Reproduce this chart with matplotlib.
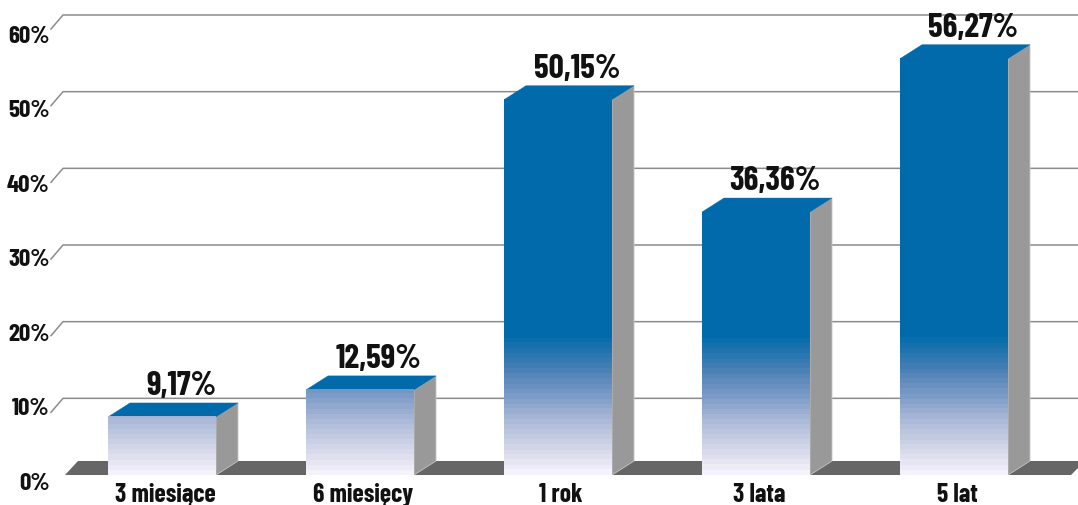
import matplotlib.pyplot as plt
from matplotlib.colors import LinearSegmentedColormap
from matplotlib.transforms import ScaledTranslation
import numpy as np

categories = ["3 miesiące", "6 miesięcy", "1 rok", "3 lata", "5 lat"]
printed_values = ["9,17%", "12,59%", "50,15%", "36,36%", "56,27%"]
# bar heights as measured against the gridlines (the printed values don't line up exactly)
bar_heights = [7.57, 11.1, 48.95, 34.3, 54.3]
y_ticks = [0, 10, 20, 30, 40, 50, 60]

blue = "#006aab"
side_color = "#999999"
floor_color = "#666666"
grid_color = "#8c8c8c"
gradient_colors = [(0.0, "#f4f2fa"), (0.18, "#d2d6e8"), (0.38, "#aab9d8"),
                   (0.55, "#7f9cc8"), (0.75, "#4a80b6"), (1.0, blue)]
gradient_top = 18.5

plt.rcParams["font.family"] = ["Barlow Condensed", "Roboto", "DejaVu Sans"]
plt.rcParams["font.weight"] = "bold"

W, H = 1078, 505
left_px, right_px, top_px, base_px = 63, 1078, 15, 475
first_center_px, step_px = 162, 198

fig = plt.figure(figsize=(W / 100, H / 100), dpi=100)
ax = fig.add_axes([left_px / W, 1 - base_px / H, (right_px - left_px) / W, (base_px - top_px) / H])
ax.set_xlim((left_px - first_center_px) / step_px, (right_px - first_center_px) / step_px)
ax.set_ylim(0, 60)

px_x = 1 / step_px
px_y = 60 / (base_px - top_px)
half_w = 54 * px_x
depth_x = 22 * px_x
depth_y = 14 * px_y

# gridlines and the little slanted stems at their left end
for t in y_ticks[1:]:
    ax.plot([ax.get_xlim()[0] - 12 * px_x, ax.get_xlim()[0], ax.get_xlim()[1]],
            [t - depth_y, t, t], color=grid_color, lw=1.1, zorder=1, clip_on=False)

# floor
fl = ax.get_xlim()[0] + 2 * px_x
fr = ax.get_xlim()[1] - 7 * px_x
ax.fill([fl, fl + 13 * px_x, fr + 14 * px_x, fr], [0, depth_y, depth_y, 0],
        color=floor_color, lw=0, zorder=2)

cmap = LinearSegmentedColormap.from_list("fade", gradient_colors, N=28)

for i, h in enumerate(bar_heights):
    x0, x1 = i - half_w, i + half_w
    ax.fill([x1, x1 + depth_x, x1 + depth_x, x1], [0, depth_y, h + depth_y, h],
            facecolor=side_color, edgecolor="#c4c4c4", lw=0.6, zorder=3)
    ax.fill([x0, x0 + depth_x, x1 + depth_x, x1], [h, h + depth_y, h + depth_y, h],
            facecolor=blue, edgecolor=blue, lw=0.3, zorder=3)
    rows = np.linspace(h, 0, 400)[:, None]
    ax.imshow(np.clip(rows / gradient_top, 0, 1), cmap=cmap, vmin=0, vmax=1, aspect="auto",
              extent=(x0, x1, 0, h), interpolation="nearest", zorder=4)
    ax.annotate(printed_values[i], (i + depth_x - 3 * px_x, h + depth_y), xytext=(0, 1.5),
                textcoords="offset points", ha="center", va="bottom", fontsize=24,
                color="#111111", fontweight="bold", zorder=5, annotation_clip=False)

ax.set_xlim((left_px - first_center_px) / step_px, (right_px - first_center_px) / step_px)
ax.set_ylim(0, 60)

ax.set_xticks(range(len(categories)), categories)
ax.set_yticks(y_ticks, [f"{t}%" for t in y_ticks])
ax.tick_params(axis="x", length=0, pad=5.5, labelsize=18.5, labelcolor="#111111")
ax.tick_params(axis="y", length=0, pad=9.5, labelsize=18, labelcolor="#111111")
for s in ax.spines.values():
    s.set_visible(False)

# labels sit a bit below their gridline, more so further up
for t, label in zip(y_ticks, ax.get_yticklabels()):
    off = 6 + 2.17 * t / 10
    label.set_transform(label.get_transform() + ScaledTranslation(0, -off / 100, fig.dpi_scale_trans))
for label in ax.get_xticklabels():
    label.set_transform(label.get_transform() + ScaledTranslation(3 / 100, 0, fig.dpi_scale_trans))

fig.savefig("out.png", dpi=100)
